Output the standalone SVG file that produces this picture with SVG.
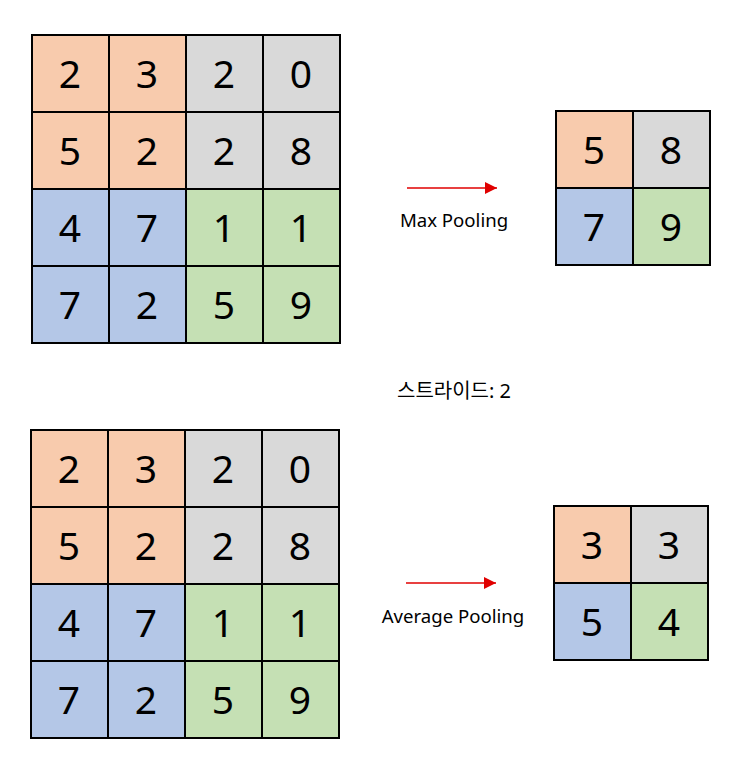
<svg xmlns="http://www.w3.org/2000/svg" width="736" height="783" viewBox="0 0 736 783">
<defs>
<style>
.c{stroke:#000;stroke-width:2}
.o{fill:#F8CBAD}.g{fill:#D9D9D9}.b{fill:#B4C7E7}.n{fill:#C5E0B4}
.d{font-family:"Noto Sans","Noto Sans CJK KR",sans-serif;font-size:39px;text-anchor:middle;fill:#000}
.l{font-family:"Noto Sans","Noto Sans CJK KR",sans-serif;font-size:18.6px;text-anchor:middle;fill:#000}
.a{stroke:#E00000;stroke-width:1.3;fill:none}
</style>
<marker id="ah" viewBox="0 0 10 10" refX="10" refY="5" markerWidth="14" markerHeight="12" markerUnits="userSpaceOnUse" orient="auto">
<path d="M0,0L10,5L0,10z" fill="#E00000"/>
</marker>
</defs>
<rect width="736" height="783" fill="#fff"/>

<g id="input-top">
<rect class="c o" x="32" y="35" width="77" height="77"/><rect class="c o" x="109" y="35" width="77" height="77"/><rect class="c g" x="186" y="35" width="77" height="77"/><rect class="c g" x="263" y="35" width="77" height="77"/>
<rect class="c o" x="32" y="112" width="77" height="77"/><rect class="c o" x="109" y="112" width="77" height="77"/><rect class="c g" x="186" y="112" width="77" height="77"/><rect class="c g" x="263" y="112" width="77" height="77"/>
<rect class="c b" x="32" y="189" width="77" height="77"/><rect class="c b" x="109" y="189" width="77" height="77"/><rect class="c n" x="186" y="189" width="77" height="77"/><rect class="c n" x="263" y="189" width="77" height="77"/>
<rect class="c b" x="32" y="266" width="77" height="77"/><rect class="c b" x="109" y="266" width="77" height="77"/><rect class="c n" x="186" y="266" width="77" height="77"/><rect class="c n" x="263" y="266" width="77" height="77"/>
<text class="d" x="70" y="88">2</text><text class="d" x="147" y="88">3</text><text class="d" x="224" y="88">2</text><text class="d" x="301" y="88">0</text>
<text class="d" x="70" y="165">5</text><text class="d" x="147" y="165">2</text><text class="d" x="224" y="165">2</text><text class="d" x="301" y="165">8</text>
<text class="d" x="70" y="242">4</text><text class="d" x="147" y="242">7</text><text class="d" x="224" y="242">1</text><text class="d" x="301" y="242">1</text>
<text class="d" x="70" y="319">7</text><text class="d" x="147" y="319">2</text><text class="d" x="224" y="319">5</text><text class="d" x="301" y="319">9</text>
</g>

<g id="output-max">
<rect class="c o" x="556" y="111" width="77" height="77"/><rect class="c g" x="633" y="111" width="77" height="77"/>
<rect class="c b" x="556" y="188" width="77" height="77"/><rect class="c n" x="633" y="188" width="77" height="77"/>
<text class="d" x="594" y="164">5</text><text class="d" x="671" y="164">8</text>
<text class="d" x="594" y="241">7</text><text class="d" x="671" y="241">9</text>
</g>

<g id="input-bottom">
<rect class="c o" x="31" y="430" width="77" height="77"/><rect class="c o" x="108" y="430" width="77" height="77"/><rect class="c g" x="185" y="430" width="77" height="77"/><rect class="c g" x="262" y="430" width="77" height="77"/>
<rect class="c o" x="31" y="507" width="77" height="77"/><rect class="c o" x="108" y="507" width="77" height="77"/><rect class="c g" x="185" y="507" width="77" height="77"/><rect class="c g" x="262" y="507" width="77" height="77"/>
<rect class="c b" x="31" y="584" width="77" height="77"/><rect class="c b" x="108" y="584" width="77" height="77"/><rect class="c n" x="185" y="584" width="77" height="77"/><rect class="c n" x="262" y="584" width="77" height="77"/>
<rect class="c b" x="31" y="661" width="77" height="77"/><rect class="c b" x="108" y="661" width="77" height="77"/><rect class="c n" x="185" y="661" width="77" height="77"/><rect class="c n" x="262" y="661" width="77" height="77"/>
<text class="d" x="69" y="483">2</text><text class="d" x="146" y="483">3</text><text class="d" x="223" y="483">2</text><text class="d" x="300" y="483">0</text>
<text class="d" x="69" y="560">5</text><text class="d" x="146" y="560">2</text><text class="d" x="223" y="560">2</text><text class="d" x="300" y="560">8</text>
<text class="d" x="69" y="637">4</text><text class="d" x="146" y="637">7</text><text class="d" x="223" y="637">1</text><text class="d" x="300" y="637">1</text>
<text class="d" x="69" y="714">7</text><text class="d" x="146" y="714">2</text><text class="d" x="223" y="714">5</text><text class="d" x="300" y="714">9</text>
</g>

<g id="output-avg">
<rect class="c o" x="554" y="506" width="77" height="77"/><rect class="c g" x="631" y="506" width="77" height="77"/>
<rect class="c b" x="554" y="583" width="77" height="77"/><rect class="c n" x="631" y="583" width="77" height="77"/>
<text class="d" x="592" y="559">3</text><text class="d" x="669" y="559">3</text>
<text class="d" x="592" y="636">5</text><text class="d" x="669" y="636">4</text>
</g>

<g id="connectors">
<line class="a" x1="407" y1="188" x2="497" y2="188" marker-end="url(#ah)"/>
<line class="a" x1="406" y1="583" x2="496" y2="583" marker-end="url(#ah)"/>
</g>

<g id="labels">
<text class="l" x="454" y="227">Max Pooling</text>
<text class="l" x="454" y="398" style="font-size:20px">스트라이드: 2</text>
<text class="l" x="453" y="623">Average Pooling</text>
</g>
</svg>
